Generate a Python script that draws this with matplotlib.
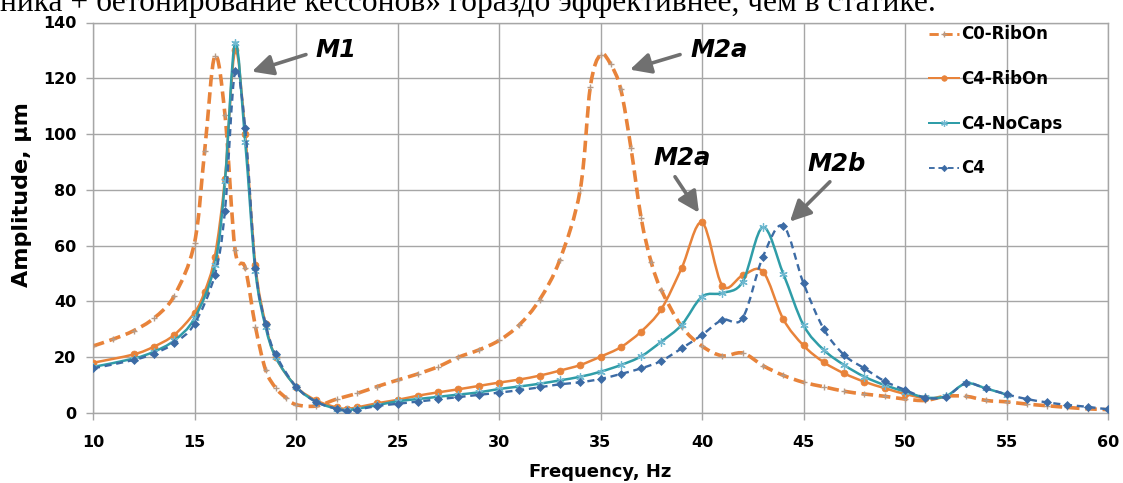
import numpy as np
import matplotlib
matplotlib.use("Agg")
import matplotlib.pyplot as plt
from matplotlib.path import Path
from matplotlib.patches import PathPatch
from matplotlib.lines import Line2D

# ---- data -------------------------------------------------------------
c0_freq = [10, 11, 12, 13, 14, 15, 15.5, 16, 16.5, 17, 17.5, 18, 18.5, 19, 19.5, 20,
           21, 22, 23, 24, 25, 26, 27, 28, 29, 30, 31, 32, 33, 34, 34.5, 35, 35.5,
           36, 36.5, 37, 37.5, 38, 39, 40, 41, 42, 43, 44, 45, 46, 47, 48, 49, 50,
           51, 52, 53, 54, 55, 56, 57, 58, 59, 60]
c0_amp = [24, 26.5, 29.5, 34, 42, 61, 94, 128, 107, 58.5, 52, 31, 15.5, 9, 5.5, 3,
          2.5, 5, 7, 9.5, 11.8, 14, 16.6, 20, 22.6, 26, 31.6, 40.6, 55, 80, 117, 128.5, 125,
          116, 95, 70, 54, 44, 31, 24, 20.5, 21.5, 17, 13.5, 11, 9.4, 7.8, 6.8, 6, 5,
          4.5, 6, 6, 4.5, 4, 3.2, 2.6, 2, 1.5, 1.2]

c4rib_freq = [10, 12, 13, 14, 15, 15.5, 16, 16.5, 17, 17.5, 18, 18.5, 19, 20, 21, 22,
              22.5, 23, 24, 25, 26, 27, 28, 29, 30, 31, 32, 33, 34, 35, 36, 37, 38,
              39, 40, 41, 42, 43, 44, 45, 46, 47, 48, 49, 50, 51]
c4rib_amp = [18, 21, 23.8, 28, 36, 43.5, 56, 84, 130, 100, 53, 32, 20, 9.5, 4.5, 2,
             1.5, 2, 3.5, 4.7, 6.2, 7.4, 8.5, 9.7, 10.9, 12, 13.4, 15.2, 17.2, 20.2, 23.6, 29.2, 37.3,
             52, 68.3, 45.7, 49.3, 50.7, 33.7, 24.2, 18.2, 14.2, 11.2, 8.9, 6.8, 5.2]

nocaps_freq = [10, 12, 13, 14, 15, 16, 16.5, 17, 17.5, 18, 18.5, 19, 20, 21, 22, 22.5,
               23, 24, 25, 26, 27, 28, 29, 30, 31, 32, 33, 34, 35, 36, 37, 38, 39,
               40, 41, 42, 43, 44, 45, 46, 47, 48, 49, 50, 51, 52, 53, 54, 55]
nocaps_amp = [16.5, 19.5, 22, 26, 34, 53, 83, 132.7, 97, 51, 31, 20, 9.4, 4, 1.5, 1,
              1.5, 2.8, 4.2, 5, 5.8, 6.6, 7.4, 8.6, 9.5, 10.5, 11.7, 13, 14.8, 17.2, 20.3, 25.6, 31.6,
              41.7, 43, 47, 66.6, 50, 31.5, 22.6, 17.2, 13, 10, 7.7, 5.6, 6, 10.6, 8.8, 6.6]

c4_freq = [10, 12, 13, 14, 15, 16, 16.5, 17, 17.5, 18, 18.5, 19, 20, 21, 22, 22.5,
           23, 24, 25, 26, 27, 28, 29, 30, 31, 32, 33, 34, 35, 36, 37, 38, 39,
           40, 41, 42, 43, 44, 45, 46, 47, 48, 49, 50, 51, 52, 53, 54, 55, 56,
           57, 58, 59, 60]
c4_amp = [16, 19, 21.3, 25, 32, 49.5, 72.5, 122.5, 102, 52, 32, 21, 9.5, 4, 1.5, 0.8,
          1.2, 2.5, 3.3, 4.1, 4.9, 5.7, 6.5, 7.3, 8.2, 9.2, 10.3, 11, 12.2, 14, 16, 18.7, 23.2,
          28, 33.4, 34, 56, 67.1, 46.5, 30.1, 20.8, 16, 11.4, 8.3, 5.5, 5.8, 10.6, 8.8, 6.7, 5,
          3.8, 2.9, 2.2, 1.3]

series_labels = ["C0-RibOn", "C4-RibOn", "C4-NoCaps", "C4"]
x_ticks = [10, 15, 20, 25, 30, 35, 40, 45, 50, 55, 60]
y_ticks = [0, 20, 40, 60, 80, 100, 120, 140]

# mode labels: (text, text position, arrow tail, arrow head) in data units
mode_labels = ["M1", "M2a", "M2a", "M2b"]
mode_text_xy = [(21.97, 130.3), (40.84, 130.3), (39.01, 91.5), (46.65, 89.4)]
mode_tail_xy = [(20.49, 128.5), (38.92, 128.5), (38.67, 84.7), (46.3, 82.9)]
mode_head_xy = [(17.83, 122.4), (36.45, 123.1), (39.85, 71.8), (44.33, 68.6)]

ORANGE = "#E8833A"
TEAL = "#2F9DA8"
BLUE = "#3C6BA5"
GRID = "#A6A6A6"
FONT = "DejaVu Sans"


def smooth_path(xs, ys, k=1.0 / 6.0):
    """Cubic Bezier path through the points (spreadsheet-style smoothed line)."""
    p = np.column_stack([xs, ys]).astype(float)
    n = len(p)
    verts = [p[0]]
    codes = [Path.MOVETO]
    for i in range(n - 1):
        p_prev = p[i - 1] if i > 0 else p[i]
        p_next2 = p[i + 2] if i + 2 < n else p[i + 1]
        c1 = p[i] + (p[i + 1] - p_prev) * k
        c2 = p[i + 1] - (p_next2 - p[i]) * k
        verts += [c1, c2, p[i + 1]]
        codes += [Path.CURVE4] * 3
    return Path(np.array(verts), codes)


fig = plt.figure(figsize=(11.23, 4.83), dpi=100)
fig.patch.set_facecolor("white")
ax = fig.add_axes([93 / 1123, 1 - 413 / 483, (1108 - 93) / 1123, (413 - 22.5) / 483])

styles = [
    dict(x=c0_freq, y=c0_amp, color=ORANGE, lw=2.6, ls=(0, (3.2, 1.6)),
         marker="+", ms=5, mc="#B59A86", mew=1.0, z=3),
    dict(x=c4rib_freq, y=c4rib_amp, color=ORANGE, lw=1.8, ls="-",
         marker="o", ms=5, mc=ORANGE, mew=0.5, z=4),
    dict(x=nocaps_freq, y=nocaps_amp, color=TEAL, lw=1.8, ls="-",
         marker=(6, 2, 0), ms=6, mc="#6FB8D0", mew=0.9, z=5),
    dict(x=c4_freq, y=c4_amp, color=BLUE, lw=1.7, ls=(0, (3.0, 2.0)),
         marker="D", ms=4, mc=BLUE, mew=0.5, z=6),
]

handles = []
for s in styles:
    patch = PathPatch(smooth_path(s["x"], s["y"]), facecolor="none",
                      edgecolor=s["color"], lw=s["lw"], linestyle=s["ls"],
                      zorder=s["z"], capstyle="butt")
    ax.add_patch(patch)
    ax.plot(s["x"], s["y"], linestyle="none", marker=s["marker"], ms=s["ms"],
            color=s["mc"], mec=s["mc"], mew=s["mew"], zorder=s["z"] + 0.5)
    handles.append(Line2D([], [], color=s["color"], lw=s["lw"] * 0.8, ls=s["ls"],
                          marker=s["marker"], ms=s["ms"] * 0.8, mfc=s["mc"],
                          mec=s["mc"], mew=s["mew"]))

ax.set_xlim(10, 60)
ax.set_ylim(0, 140)
ax.set_xticks(x_ticks)
ax.set_yticks(y_ticks)
ax.grid(True, color=GRID, lw=1.0)
ax.set_axisbelow(True)
for sp in ax.spines.values():
    sp.set_color(GRID)
    sp.set_linewidth(1.0)
ax.tick_params(axis="both", direction="out", length=5, width=1.0, color=GRID,
               labelsize=11.5)
ax.tick_params(axis="y", pad=7)
ax.tick_params(axis="x", pad=11)
for lab in ax.get_xticklabels() + ax.get_yticklabels():
    lab.set_fontfamily(FONT)
    lab.set_fontweight("bold")

ax.set_xlabel("Frequency, Hz", fontsize=13, fontweight="bold", family=FONT)
ax.xaxis.set_label_coords(0.5, (413 - 472) / 390.5)
ax.set_ylabel("Amplitude, \u00b5m", fontsize=16, fontweight="bold", family=FONT)
ax.yaxis.set_label_coords((22 - 93) / 1015, (413 - 195) / 390.5)
ax.xaxis.label.set_va("center")
ax.yaxis.label.set_va("center")

leg = ax.legend(handles, series_labels, loc="upper left", bbox_to_anchor=(0.8217, 0.997),
                frameon=False, handlelength=1.8, handletextpad=0.15, labelspacing=1.6,
                borderaxespad=0, borderpad=0.1,
                prop=dict(family=FONT, weight="bold", size=12))

for text, txy, tail, head in zip(mode_labels, mode_text_xy, mode_tail_xy, mode_head_xy):
    ax.text(txy[0], txy[1], text, ha="center", va="center", fontsize=17.5,
            fontweight="bold", fontstyle="italic", family="DejaVu Sans", zorder=10)
    ax.annotate("", xy=head, xytext=tail,
                arrowprops=dict(arrowstyle="-|>,head_length=0.7,head_width=0.35",
                                color="#707070", lw=2.6, mutation_scale=18,
                                shrinkA=0, shrinkB=0),
                zorder=10)

# running text of the page above the chart (cut by the top edge)
fig.text(0.0, 1 - 10.5 / 483, "ника + бетонирование кессонов» гораздо эффективнее, чем в статике.",
         family="Liberation Serif", fontsize=22.7, ha="left", va="baseline")

fig.savefig("out.png", dpi=100, facecolor="white")
